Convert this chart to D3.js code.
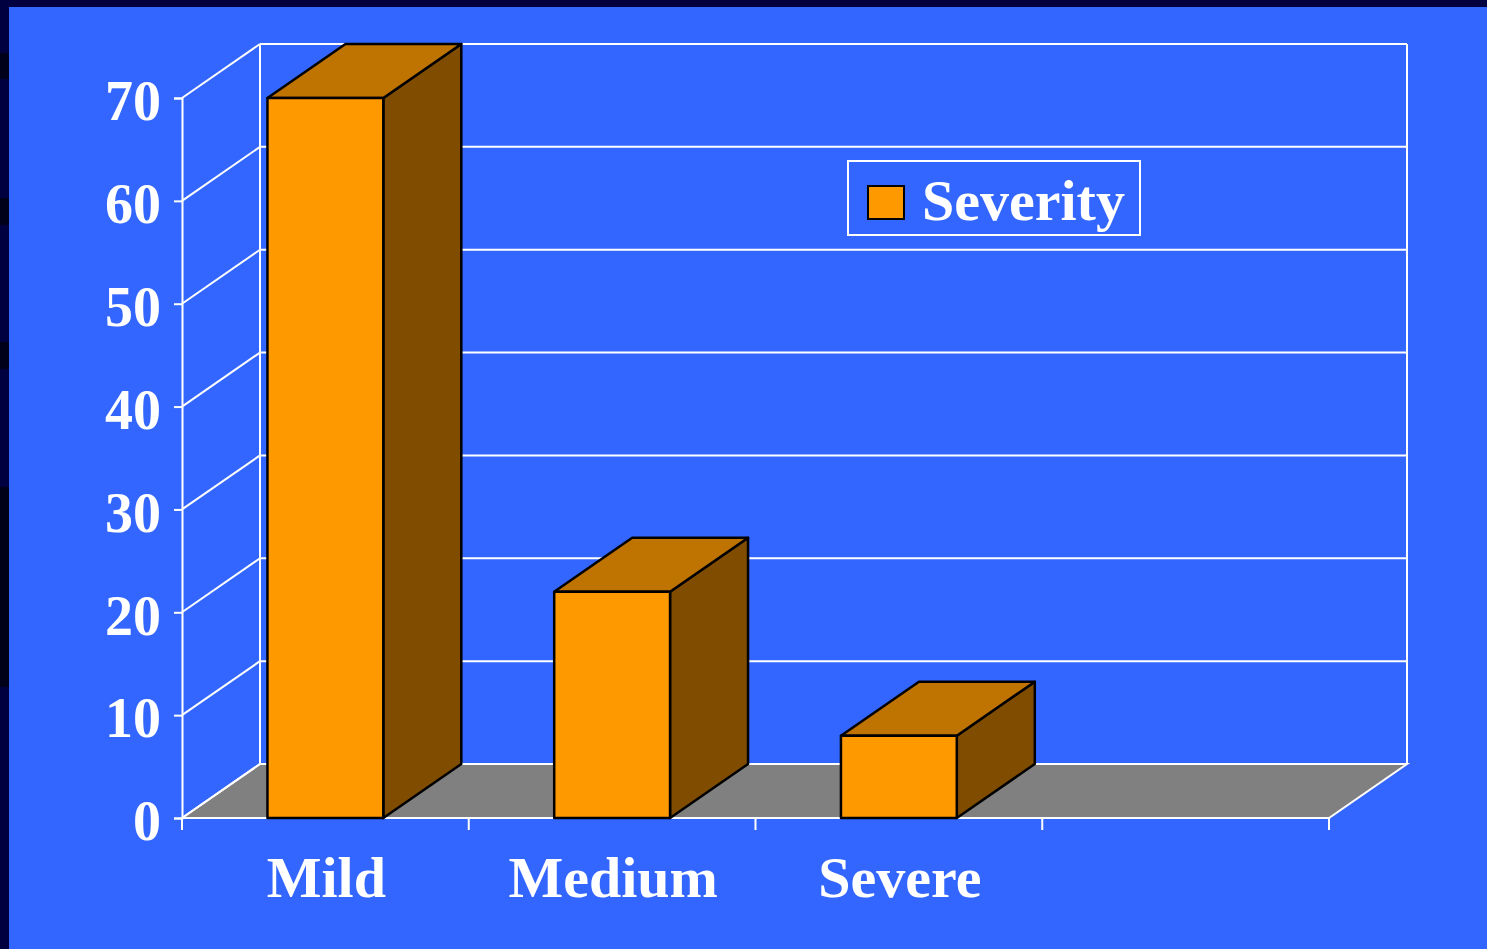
<!DOCTYPE html>
<html><head><meta charset="utf-8">
<script src="https://cdn.jsdelivr.net/npm/d3@7"></script>
<style>html,body{margin:0;padding:0;background:#000040;overflow:hidden}</style>
</head><body>
<svg id="chart" width="1487" height="949"></svg>
<script>
const categories = ["Mild", "Medium", "Severe", ""];
const severity = [70, 22, 8];
const yTicks = [0, 10, 20, 30, 40, 50, 60, 70];
const seriesName = "Severity";

const W = 1487, H = 949;
const svg = d3.select("#chart");
const font = "'Liberation Serif','Times New Roman',serif";

// page background
svg.append("rect").attr("x",0).attr("y",0).attr("width",W).attr("height",H).attr("fill","#000040");
[[53,79],[198,225],[342,369]].forEach(([a,b])=>svg.append("rect").attr("x",0).attr("y",a).attr("width",9).attr("height",b-a).attr("fill","#00001a"));
svg.append("rect").attr("x",0).attr("y",487).attr("width",9).attr("height",200).attr("fill","#000018");
svg.append("rect").attr("x",9).attr("y",7).attr("width",W-9).attr("height",H-7).attr("fill","#3366FF");

const x = d3.scaleBand().domain(categories).range([182, 1329]);
const y = d3.scaleLinear().domain([0, 70]).range([818, 98]);
const dx = 78, dy = -54;
const x0 = x.range()[0], x1 = x.range()[1];
const white = "#FFFFFF";

// floor
svg.append("polygon")
  .attr("points", [[x0,y(0)],[x0+dx,y(0)+dy],[x1+dx,y(0)+dy],[x1,y(0)]].map(p=>p.join(",")).join(" "))
  .attr("fill","#808080").attr("stroke",white).attr("stroke-width",2);

// back wall gridlines and side wall diagonals
const g = svg.append("g");
yTicks.forEach(v=>{
  g.append("line").attr("x1",x0+dx).attr("x2",x1+dx).attr("y1",y(v)+dy).attr("y2",y(v)+dy)
    .attr("stroke",white).attr("stroke-width",2);
  g.append("line").attr("x1",x0).attr("x2",x0+dx).attr("y1",y(v)).attr("y2",y(v)+dy)
    .attr("stroke",white).attr("stroke-width",2);
});
// wall verticals
g.append("line").attr("x1",x0+dx).attr("x2",x0+dx).attr("y1",y(70)+dy).attr("y2",y(0)+dy).attr("stroke",white).attr("stroke-width",2);
g.append("line").attr("x1",x1+dx).attr("x2",x1+dx).attr("y1",y(70)+dy).attr("y2",y(0)+dy).attr("stroke",white).attr("stroke-width",2);

// axes
const yAxis = svg.append("g").attr("transform",`translate(${x0},0)`)
  .call(d3.axisLeft(y).tickValues(yTicks).tickSize(8).tickFormat(d3.format("d")));
yAxis.select(".domain").attr("stroke",white).attr("stroke-width",2);
yAxis.selectAll(".tick line").attr("stroke",white).attr("stroke-width",2);
yAxis.selectAll(".tick text").attr("fill",white).attr("font-family",font).attr("font-weight","bold")
  .attr("font-size",56).attr("x",-21).attr("dy","0.39em");

const xAxis = svg.append("g").attr("transform",`translate(0,${y(0)})`);
xAxis.append("line").attr("x1",x0).attr("x2",x1).attr("y1",0).attr("y2",0).attr("stroke",white).attr("stroke-width",2);
const bounds = categories.map(c=>x(c)).concat([x1]);
xAxis.selectAll("line.tk").data(bounds).join("line").attr("class","tk")
  .attr("x1",d=>d).attr("x2",d=>d).attr("y1",0).attr("y2",12).attr("stroke",white).attr("stroke-width",2);
xAxis.selectAll("text").data(categories.filter(c=>c)).join("text")
  .attr("x",d=>x(d)+x.bandwidth()/2+1).attr("y",79)
  .attr("text-anchor","middle").attr("fill",white).attr("font-family",font).attr("font-weight","bold")
  .attr("font-size",58).text(d=>d);

// 3D bars
const bw = x.bandwidth()*0.404;
const bars = svg.append("g");
severity.forEach((v,i)=>{
  const c = categories[i];
  const bx = x(c) + (x.bandwidth()-bw)/2;
  const top = y(v), base = y(0);
  const bar = bars.append("g").attr("stroke","#000").attr("stroke-width",2.5).attr("stroke-linejoin","round");
  bar.append("polygon").attr("points",[[bx+bw,top],[bx+bw+dx,top+dy],[bx+bw+dx,base+dy],[bx+bw,base]].map(p=>p.join(",")).join(" "))
    .attr("fill","#7F4C00");
  bar.append("polygon").attr("points",[[bx,top],[bx+dx,top+dy],[bx+bw+dx,top+dy],[bx+bw,top]].map(p=>p.join(",")).join(" "))
    .attr("fill","#BF7300");
  bar.append("rect").attr("x",bx).attr("y",top).attr("width",bw).attr("height",base-top).attr("fill","#FF9900");
});

// legend
const lg = svg.append("g");
lg.append("rect").attr("x",848).attr("y",161).attr("width",292).attr("height",74)
  .attr("fill","none").attr("stroke",white).attr("stroke-width",2);
lg.append("rect").attr("x",868).attr("y",186).attr("width",36).attr("height",33)
  .attr("fill","#FF9900").attr("stroke","#000").attr("stroke-width",2);
lg.append("text").attr("x",922).attr("y",220).attr("fill",white).attr("font-family",font)
  .attr("font-weight","bold").attr("font-size",58).text(seriesName);
</script>
</body></html>
